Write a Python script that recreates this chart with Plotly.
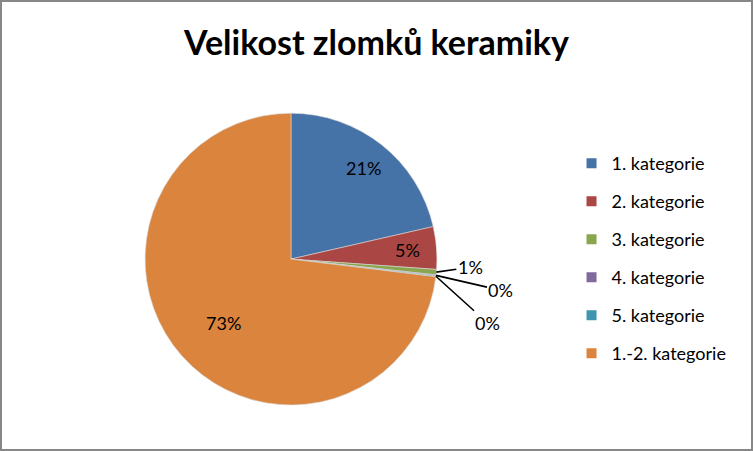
import math
import plotly.graph_objects as go

categories = ['1. kategorie', '2. kategorie', '3. kategorie',
              '4. kategorie', '5. kategorie', '1.-2. kategorie']
shares = [21.4, 4.7, 0.6, 0.1, 0.1, 73.0]
colors = ['#4572A7', '#AA4643', '#89A54E', '#80699B', '#3D96AE', '#DB843D']
# None = label inside the slice, otherwise (dx, dy) pixel offset of a leader-line label
label_offsets = [None, None, (34, -5), (65, 15), (52, 47), None]

W, H = 753, 451
pie_x = [0.1926, 0.5803]
pie_y = [0.102, 0.749]

fig = go.Figure()

fig.add_trace(go.Pie(
    labels=categories,
    values=shares,
    sort=False,
    direction='clockwise',
    rotation=0,
    marker=dict(colors=colors, line=dict(color='#d9d9d9', width=0.6)),
    textinfo='none',
    domain=dict(x=pie_x, y=pie_y),
    showlegend=False,
    hoverinfo='label+percent',
))

# percentage labels placed like excel does (around 0.8 of the radius)
total = sum(shares)
cx = sum(pie_x) / 2
cy = sum(pie_y) / 2
r_px = min((pie_x[1] - pie_x[0]) * W, (pie_y[1] - pie_y[0]) * H) / 2
cum = 0
annotations = []
for v, off in zip(shares, label_offsets):
    mid = (cum + v / 2) / total * 2 * math.pi
    cum += v
    txt = '%d%%' % round(v / total * 100)
    k = 0.8 if off is None else 1.0
    ax_ = cx + k * r_px * math.sin(mid) / W
    ay_ = cy + k * r_px * math.cos(mid) / H
    if off is None:
        annotations.append(dict(x=ax_, y=ay_, xref='paper', yref='paper', text=txt,
                                showarrow=False,
                                font=dict(family='Lato', size=18, color='#000000')))
    else:
        annotations.append(dict(x=ax_, y=ay_, xref='paper', yref='paper', text=txt,
                                showarrow=True, arrowhead=0, arrowwidth=1.6,
                                arrowcolor='#000000', ax=off[0], ay=off[1],
                                font=dict(family='Lato', size=18, color='#000000')))

# legend entries drawn as dummy markers so the row spacing can match
for i, (name, c) in enumerate(zip(categories, colors)):
    fig.add_trace(go.Scatter(
        x=[None], y=[None], mode='markers', name=name,
        legendgroup=str(i),
        marker=dict(symbol='square', size=10, color=c),
    ))

fig.update_layout(
    width=W, height=H,
    margin=dict(l=0, r=0, t=0, b=0),
    paper_bgcolor='white', plot_bgcolor='white',
    title=dict(text='<b>Velikost zlomků keramiky</b>', x=0.5, xanchor='center',
               y=0.905, yanchor='middle',
               font=dict(family='Lato', size=34, color='#000000')),
    xaxis=dict(visible=False), yaxis=dict(visible=False),
    legend=dict(x=0.759, xanchor='left', y=1 - 145 / 451, yanchor='top',
                font=dict(family='Lato', size=18, color='#000000'),
                tracegroupgap=11.6, bgcolor='rgba(0,0,0,0)'),
    annotations=annotations,
    shapes=[dict(type='rect', xref='paper', yref='paper', x0=0, y0=0, x1=1, y1=1,
                 line=dict(color='#878787', width=4))],
)

fig.write_html("out.html", config={'displayModeBar': False},
               post_script="document.body.style.margin='0';")
